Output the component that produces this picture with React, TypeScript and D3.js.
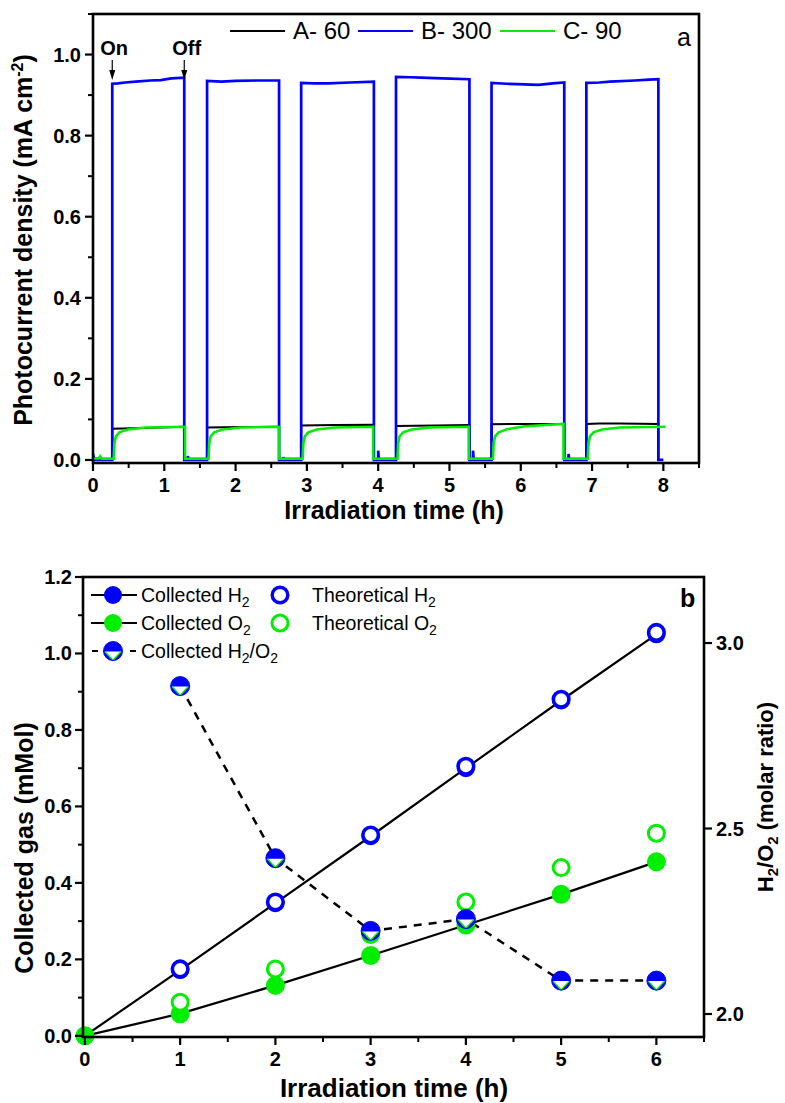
import React from "react";
import * as d3 from "d3";

// ---------- Panel a data (time h, photocurrent mA cm^-2) ----------
const seriesA60: [number, number][] = [
  [0, 0.003], [0.27, 0.003], [0.27, 0.077], [0.7, 0.079], [1.28, 0.082], [1.28, 0.003],
  [1.6, 0.003], [1.6, 0.08], [2.1, 0.081], [2.61, 0.082], [2.61, 0.003],
  [2.92, 0.003], [2.92, 0.085], [3.4, 0.086], [3.94, 0.087], [3.94, 0.003],
  [4.25, 0.003], [4.25, 0.084], [4.8, 0.085], [5.28, 0.086], [5.28, 0.003],
  [5.59, 0.003], [5.59, 0.088], [6.1, 0.089], [6.61, 0.089], [6.61, 0.003],
  [6.92, 0.003], [6.92, 0.089], [7.1, 0.09], [7.4, 0.09], [7.93, 0.089], [7.93, 0.003],
];
const seriesB300: [number, number][] = [
  [0, 0.015], [0.02, 0.0], [0.27, 0.0], [0.27, 0.928], [0.35, 0.929], [0.45, 0.931], [0.6, 0.933], [0.8, 0.936], [0.95, 0.937], [1.1, 0.941], [1.28, 0.943], [1.28, 0.0],
  [1.33, 0.0], [1.33, 0.01], [1.34, 0.0], [1.6, 0.0], [1.6, 0.935], [1.8, 0.933], [2.0, 0.935], [2.3, 0.936], [2.61, 0.936], [2.61, 0.0],
  [2.67, 0.0], [2.67, 0.007], [2.68, 0.0], [2.92, 0.0], [2.92, 0.93], [3.1, 0.929], [3.3, 0.929], [3.6, 0.931], [3.94, 0.933], [3.94, 0.0],
  [4.0, 0.0], [4.0, 0.023], [4.01, 0.0], [4.25, 0.0], [4.25, 0.945], [4.45, 0.944], [4.6, 0.943], [4.9, 0.941], [5.28, 0.939], [5.28, 0.0],
  [5.33, 0.0], [5.33, 0.023], [5.34, 0.0], [5.59, 0.0], [5.59, 0.93], [5.8, 0.928], [5.95, 0.927], [6.25, 0.925], [6.45, 0.929], [6.61, 0.931], [6.61, 0.0],
  [6.67, 0.0], [6.67, 0.015], [6.68, 0.0], [6.92, 0.0], [6.92, 0.93], [7.1, 0.931], [7.25, 0.933], [7.6, 0.936], [7.8, 0.938], [7.93, 0.939], [7.93, 0.0], [8.0, 0.0],
];
const seriesC90: [number, number][] = [
  [0, 0.004], [0.08, 0.004], [0.1, 0.009], [0.12, 0.003], [0.29, 0.003],
  [0.3, 0.04], [0.32, 0.058], [0.37, 0.068], [0.49, 0.075], [0.74, 0.08], [1.29, 0.082], [1.29, 0.003],
  [1.62, 0.003], [1.63, 0.04], [1.65, 0.058], [1.7, 0.068], [1.82, 0.075], [2.07, 0.08], [2.61, 0.082], [2.61, 0.003],
  [2.94, 0.003], [2.95, 0.04], [2.97, 0.058], [3.02, 0.068], [3.14, 0.075], [3.39, 0.08], [3.93, 0.082], [3.93, 0.003],
  [4.27, 0.003], [4.28, 0.04], [4.3, 0.058], [4.35, 0.068], [4.47, 0.075], [4.72, 0.08], [5.27, 0.082], [5.27, 0.003],
  [5.61, 0.003], [5.62, 0.042], [5.64, 0.058], [5.69, 0.068], [5.81, 0.076], [6.06, 0.083], [6.6, 0.089], [6.6, 0.003],
  [6.94, 0.003], [6.95, 0.04], [6.97, 0.058], [7.02, 0.068], [7.14, 0.075], [7.39, 0.08], [8.03, 0.082],
];
const legendA = ["A- 60", "B- 300", "C- 90"];
const colorsA = ["#000000", "#0000ff", "#00ee00"];
const onOffTimes = [0.27, 1.28];
const xTicksA = [0, 1, 2, 3, 4, 5, 6, 7, 8];
const yTicksA = [0, 0.2, 0.4, 0.6, 0.8, 1.0];

// ---------- Panel b data ----------
const hours = [0, 1, 2, 3, 4, 5, 6];
const collectedH2 = [0, 0.172, 0.347, 0.522, 0.7, 0.877, 1.05];
const collectedO2 = [0, 0.058, 0.132, 0.21, 0.29, 0.37, 0.455];
const theoHours = [1, 2, 3, 4, 5, 6];
const theoreticalH2 = [0.175, 0.35, 0.525, 0.705, 0.88, 1.055];
const theoreticalO2 = [0.088, 0.175, 0.265, 0.35, 0.44, 0.53];
const ratioHours = [1, 2, 3, 4, 5, 6];
const ratioH2O2 = [2.884, 2.42, 2.224, 2.256, 2.09, 2.09];
const xTicksB = [0, 1, 2, 3, 4, 5, 6];
const yTicksB = [0, 0.2, 0.4, 0.6, 0.8, 1.0, 1.2];
const yTicksBRight = [2.0, 2.5, 3.0];

const BLUE = "#0000ff";
const GREEN = "#00ee00";
const FONT = "Arial, 'Liberation Sans', sans-serif";

function RatioMarker({ cx, cy }: { cx: number; cy: number }) {
  return (
    <g transform={`translate(${cx},${cy})`}>
      <circle r={9.5} fill={BLUE} />
      <path d="M-8.2,0.5 L8.2,0.5 L0,9.3 Z" fill="#fff" />
      <path d="M-8.2,0.5 L0,9.3 L8.2,0.5" fill="none" stroke={GREEN} strokeWidth={1.4} />
      <circle r={9.5} fill="none" stroke={BLUE} strokeWidth={1} />
    </g>
  );
}

export default function App() {
  // Panel a scales
  const xa = d3.scaleLinear().domain([0, 8.5]).range([93, 699]);
  const ya = d3.scaleLinear().domain([-0.0075, 1.1]).range([463, 14]);
  const lineA = d3.line<[number, number]>().x((d) => xa(d[0])).y((d) => ya(d[1]));
  const minorXA = d3.range(1, 18, 2).map((v) => v / 2);
  const minorYA = d3.range(1, 12, 2).map((v) => v / 10);

  // Panel b scales
  const xb = d3.scaleLinear().domain([-0.02, 6.5]).range([83, 704]);
  const yb = d3.scaleLinear().domain([-0.003, 1.2]).range([1037, 577]);
  const yr = d3.scaleLinear().domain([1.938, 3.178]).range([1037, 577]);
  const minorXB = d3.range(1, 14, 2).map((v) => v / 2);
  const minorYB = d3.range(1, 12, 2).map((v) => v / 10);

  const lineB = d3.line<number>().x((_, i) => xb(hours[i])).y((d) => yb(d));
  const ratioLine = d3.line<number>().x((_, i) => xb(ratioHours[i])).y((d) => yr(d));

  const tickFont = { fontFamily: FONT, fontWeight: 700, fontSize: 20 } as const;
  const titleFont = { fontFamily: FONT, fontWeight: 700, fontSize: 25 } as const;

  const legXs = [230, 358, 500];

  return (
    <svg width={785} height={1103} style={{ position: "absolute", left: 0, top: 0, background: "#fff" }}>
      <rect width={785} height={1103} fill="#fff" />
      {/* ================= Panel a ================= */}
      <g>
        <path d={lineA(seriesA60)!} fill="none" stroke={colorsA[0]} strokeWidth={2} />
        <path d={lineA(seriesB300)!} fill="none" stroke={colorsA[1]} strokeWidth={2.7} />
        <path d={lineA(seriesC90)!} fill="none" stroke={colorsA[2]} strokeWidth={2.6} />
        {/* frame */}
        <rect x={93} y={14} width={606} height={449} fill="none" stroke="#000" strokeWidth={2.6} />
        {/* x ticks */}
        {xTicksA.map((t) => (
          <g key={"xa" + t}>
            <line x1={xa(t)} x2={xa(t)} y1={463} y2={471} stroke="#000" strokeWidth={2.2} />
            <text x={xa(t)} y={492} textAnchor="middle" {...tickFont}>{t}</text>
          </g>
        ))}
        {minorXA.map((t) => (
          <line key={"mxa" + t} x1={xa(t)} x2={xa(t)} y1={463} y2={468} stroke="#000" strokeWidth={2} />
        ))}
        {yTicksA.map((t) => (
          <g key={"ya" + t}>
            <line x1={85} x2={93} y1={ya(t)} y2={ya(t)} stroke="#000" strokeWidth={2.2} />
            <text x={81} y={ya(t) + 7} textAnchor="end" {...tickFont}>{t.toFixed(1)}</text>
          </g>
        ))}
        {minorYA.map((t) => (
          <line key={"mya" + t} x1={88} x2={93} y1={ya(t)} y2={ya(t)} stroke="#000" strokeWidth={2} />
        ))}
        <text x={394} y={519} textAnchor="middle" {...titleFont}>Irradiation time (h)</text>
        <text transform={`translate(32,240) rotate(-90)`} textAnchor="middle" {...titleFont}>
          Photocurrent density (mA cm<tspan dy={-9} fontSize={16}>-2</tspan><tspan dy={9}>)</tspan>
        </text>
        {/* legend */}
        {legendA.map((l, i) => (
          <g key={l}>
            <line x1={legXs[i]} x2={legXs[i] + 55} y1={31} y2={31} stroke={colorsA[i]} strokeWidth={2.2} />
            <text x={legXs[i] + 63} y={39} fontFamily={FONT} fontSize={24}>{l}</text>
          </g>
        ))}
        <text x={677} y={46} fontFamily={FONT} fontSize={25}>a</text>
        {/* On / Off annotations */}
        {["On", "Off"].map((s, i) => (
          <g key={s}>
            <text x={xa(onOffTimes[i]) - 12} y={55} fontFamily={FONT} fontWeight={700} fontSize={20}>{s}</text>
            <line x1={xa(onOffTimes[i])} x2={xa(onOffTimes[i])} y1={60} y2={74} stroke="#000" strokeWidth={1.2} />
            <path d={`M${xa(onOffTimes[i]) - 3},${70} L${xa(onOffTimes[i]) + 3},${70} L${xa(onOffTimes[i])},${80} Z`} fill="#000" />
          </g>
        ))}
      </g>

      {/* ================= Panel b ================= */}
      <g>
        <path d={lineB(collectedH2)!} fill="none" stroke="#000" strokeWidth={2.2} />
        <path d={lineB(collectedO2)!} fill="none" stroke="#000" strokeWidth={2.2} />
        <path d={ratioLine(ratioH2O2)!} fill="none" stroke="#000" strokeWidth={2.5} strokeDasharray="8,7" />
        {collectedH2.map((v, i) => (
          <circle key={"ch" + i} cx={xb(hours[i])} cy={yb(v)} r={9} fill={BLUE} />
        ))}
        {theoreticalH2.map((v, i) => (
          <circle key={"th" + i} cx={xb(theoHours[i])} cy={yb(v)} r={7.8} fill="#fff" stroke={BLUE} strokeWidth={3.6} />
        ))}
        {collectedO2.map((v, i) => (
          <circle key={"co" + i} cx={xb(hours[i])} cy={yb(v)} r={9.5} fill={GREEN} />
        ))}
        {theoreticalO2.map((v, i) => (
          <circle key={"to" + i} cx={xb(theoHours[i])} cy={yb(v)} r={8} fill="#fff" stroke={GREEN} strokeWidth={3} />
        ))}
        {ratioH2O2.map((v, i) => (
          <RatioMarker key={"r" + i} cx={xb(ratioHours[i])} cy={yr(v)} />
        ))}
        {/* frame */}
        <rect x={83} y={577} width={621} height={460} fill="none" stroke="#000" strokeWidth={2.6} />
        {xTicksB.map((t) => (
          <g key={"xb" + t}>
            <line x1={xb(t)} x2={xb(t)} y1={1037} y2={1045} stroke="#000" strokeWidth={2.2} />
            <text x={xb(t)} y={1066} textAnchor="middle" {...tickFont}>{t}</text>
          </g>
        ))}
        {minorXB.map((t) => (
          <line key={"mxb" + t} x1={xb(t)} x2={xb(t)} y1={1037} y2={1042} stroke="#000" strokeWidth={2} />
        ))}
        {yTicksB.map((t) => (
          <g key={"yb" + t}>
            <line x1={75} x2={83} y1={yb(t)} y2={yb(t)} stroke="#000" strokeWidth={2.2} />
            <text x={72} y={yb(t) + 7} textAnchor="end" {...tickFont}>{t.toFixed(1)}</text>
          </g>
        ))}
        {minorYB.map((t) => (
          <line key={"myb" + t} x1={78} x2={83} y1={yb(t)} y2={yb(t)} stroke="#000" strokeWidth={2} />
        ))}
        {yTicksBRight.map((t) => (
          <g key={"yr" + t}>
            <line x1={704} x2={712} y1={yr(t)} y2={yr(t)} stroke="#000" strokeWidth={2.2} />
            <text x={716} y={yr(t) + 7} textAnchor="start" {...tickFont}>{t.toFixed(1)}</text>
          </g>
        ))}
        <text x={394} y={1097} textAnchor="middle" {...titleFont} fontSize={26}>Irradiation time (h)</text>
        <text transform={`translate(33,848) rotate(-90)`} textAnchor="middle" {...titleFont}>Collected gas (mMol)</text>
        <text transform={`translate(773,797) rotate(-90)`} textAnchor="middle" {...titleFont} fontSize={22}>
          H<tspan dy={5} fontSize={15}>2</tspan><tspan dy={-5}>/O</tspan><tspan dy={5} fontSize={15}>2</tspan><tspan dy={-5}> (molar ratio)</tspan>
        </text>
        <text x={680} y={607} fontFamily={FONT} fontWeight={700} fontSize={25}>b</text>
        {/* legend */}
        <g fontFamily={FONT} fontSize={19.5}>
          <line x1={91} x2={137} y1={595} y2={595} stroke="#000" strokeWidth={2} />
          <circle cx={113} cy={595} r={9} fill={BLUE} />
          <text x={141} y={602}>Collected H<tspan dy={5} fontSize={14}>2</tspan></text>
          <circle cx={280} cy={595} r={7.8} fill="#fff" stroke={BLUE} strokeWidth={3.4} />
          <text x={312} y={602}>Theoretical H<tspan dy={5} fontSize={14}>2</tspan></text>

          <line x1={91} x2={137} y1={623} y2={623} stroke="#000" strokeWidth={2} />
          <circle cx={113} cy={623} r={9} fill={GREEN} />
          <text x={141} y={630}>Collected O<tspan dy={5} fontSize={14}>2</tspan></text>
          <circle cx={280} cy={623} r={8} fill="#fff" stroke={GREEN} strokeWidth={3} />
          <text x={312} y={630}>Theoretical O<tspan dy={5} fontSize={14}>2</tspan></text>

          <line x1={92} x2={136} y1={651} y2={651} stroke="#000" strokeWidth={2} strokeDasharray="6,32,6" />
          <RatioMarker cx={113} cy={651} />
          <text x={141} y={658}>Collected H<tspan dy={5} fontSize={14}>2</tspan><tspan dy={-5}>/O</tspan><tspan dy={5} fontSize={14}>2</tspan></text>
        </g>
      </g>
    </svg>
  );
}
